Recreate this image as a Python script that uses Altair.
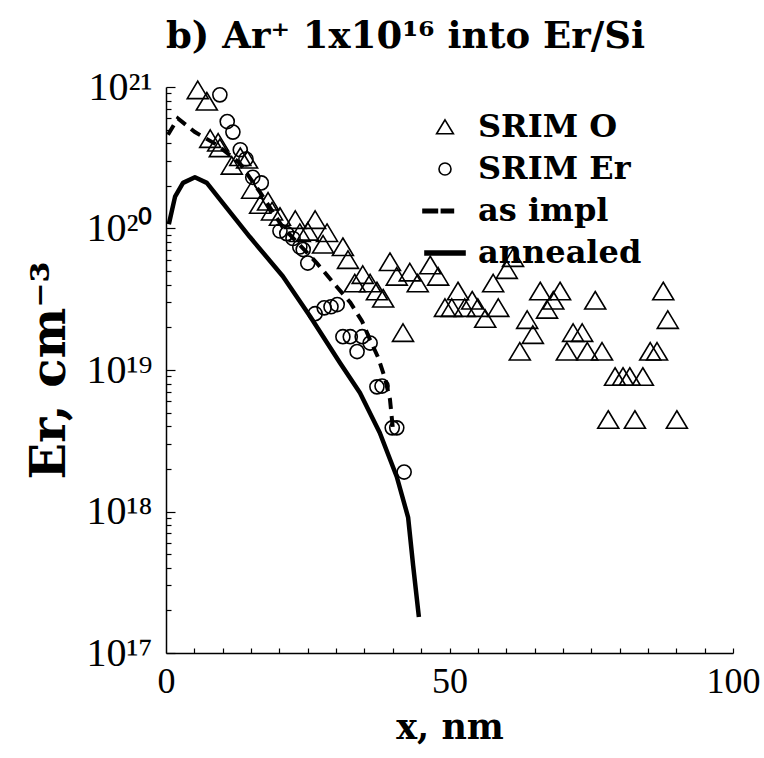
import altair as alt
import pandas as pd

# ---------------- data ----------------
anneal_x = [0.5, 1.6, 3.0, 5.1, 7.2, 10.1, 14.8, 20.6, 25.4, 30.7, 34.2, 37.7, 40.7, 42.7, 43.6, 44.6]
anneal_y = [1.07e20, 1.68e20, 2.1e20, 2.3e20, 2.1e20, 1.5e20, 8.7e19, 4.6e19, 2.4e19, 1.12e19,
            6.9e18, 3.6e18, 1.76e18, 9.1e17, 4.1e17, 1.8e17]

impl_x = [0.35, 2.1, 5.1, 9.0, 13.0, 16.6, 20.6, 26.6, 30.3, 32.5, 34.6, 36.0, 37.4, 38.6, 39.5, 40.0]
impl_y = [4.6e20, 6.0e20, 4.8e20, 3.9e20, 2.9e20, 1.8e20, 1.02e20, 5.7e19, 3.8e19, 3.0e19,
          2.2e19, 1.63e19, 1.23e19, 8.8e18, 6.2e18, 3.9e18]

srim_o_x = [5.6, 7.2, 7.8, 9.2, 9.5, 13.1, 14.3, 11.6, 15.2, 16.6, 18.0, 18.7, 20.1, 22.8, 26.3,
            23.6, 25.0, 28.4, 27.7, 31.2, 32.1, 34.7, 33.3, 36.0, 37.2, 38.3, 39.5, 40.7, 43.0,
            44.4, 46.6, 48.0, 41.8, 51.5, 49.2, 50.4, 54.0, 52.7, 55.0, 56.3, 58.6, 57.7, 60.1,
            61.2, 63.7, 64.7, 62.4, 66.0, 67.2, 68.3, 69.5, 75.7, 71.8, 73.4, 70.7, 74.3, 76.9,
            85.4, 86.6, 79.2, 80.6, 81.8, 84.1, 78.0, 82.7, 90.1, 87.7, 88.5]
srim_o_y = [9.5e20, 7.9e20, 4.3e20, 4.05e20, 3.7e20, 3.2e20, 3.07e20, 2.78e20, 1.88e20, 1.47e20,
            1.55e20, 1.32e20, 1.21e20, 1.15e20, 1.15e20, 9.3e19, 9.5e19, 9.3e19, 7.7e19, 7.4e19,
            6.0e19, 4.7e19, 4.1e19, 4.1e19, 3.6e19, 3.2e19, 5.8e19, 4.57e19, 4.9e19, 4.1e19,
            5.5e19, 4.57e19, 1.83e19, 3.6e19, 2.75e19, 2.75e19, 3.1e19, 2.75e19, 2.75e19, 2.3e19,
            2.75e19, 4.1e19, 5.1e19, 6.2e19, 2.26e19, 1.77e19, 1.35e19, 3.6e19, 2.67e19, 3.1e19,
            3.6e19, 3.1e19, 1.83e19, 1.83e19, 1.35e19, 1.35e19, 1.35e19, 1.35e19, 1.35e19,
            8.96e18, 8.96e18, 8.96e18, 8.96e18, 4.45e18, 4.45e18, 4.45e18, 3.6e19, 2.26e19]

srim_er_x = [9.5, 10.8, 11.8, 13.1, 14.1, 15.3, 16.8, 20.1, 21.3, 22.4, 23.6, 24.2, 25.0, 26.3,
             27.9, 29.1, 30.2, 31.2, 32.5, 34.6, 36.0, 33.7, 37.2, 38.1, 39.9, 40.7, 42.0]
srim_er_y = [8.8e20, 5.7e20, 4.8e20, 3.6e20, 3.1e20, 2.3e20, 2.1e20, 9.6e19, 9.2e19, 8.5e19,
             7.4e19, 7.1e19, 5.7e19, 2.5e19, 2.75e19, 2.8e19, 2.9e19, 1.72e19, 1.72e19, 1.72e19,
             1.55e19, 1.35e19, 7.6e18, 7.7e18, 3.9e18, 3.9e18, 1.9e18]

series_names = ["SRIM O", "SRIM Er", "as impl", "annealed"]

x_label_values = [0, 50, 100]
x_tick_values = list(range(5, 101, 5))
y_major_values = [1e17, 1e18, 1e19, 1e20, 1e21]
y_major_labels = ["10¹⁷", "10¹⁸", "10¹⁹", "10²⁰", "10²¹"]
y_minor_values = [m * 10.0 ** e for e in range(17, 21) for m in range(2, 10)]

# ---------------- tables ----------------
df_ann = pd.DataFrame({"x": anneal_x, "y": anneal_y, "series": "annealed"})
df_imp = pd.DataFrame({"x": impl_x, "y": impl_y, "series": "as impl"})
df_o = pd.DataFrame({"x": srim_o_x, "y": srim_o_y, "series": "SRIM O"})
df_er = pd.DataFrame({"x": srim_er_x, "y": srim_er_y, "series": "SRIM Er"})

# ---------------- styling ----------------
SERIF = "Liberation Serif"
BOLD = "DejaVu Serif"
TICK = "black"

xs = alt.Scale(domain=[0, 100], nice=False, zero=False)
ys = alt.Scale(type="log", domain=[1e17, 1e21], nice=False)

label_expr = ""
for v, lab in zip(y_major_values, y_major_labels):
    label_expr += f"datum.value < {v * 3:.3g} ? '{lab}' : "
label_expr += "''"

TRI = "M0,-0.36L0.42,0.34L-0.42,0.34Z"
CIRC = "M-0.3,0A0.3,0.3,0,1,0,0.3,0A0.3,0.3,0,1,0,-0.3,0Z"
DASH = "M-1.1,-0.08H-0.38V0.08H-1.1Z M-0.18,-0.08H0.42V0.08H-0.18Z"
LINE = "M-1,-0.1H1V0.1H-1Z"

legend = alt.Legend(
    orient="none", legendX=258, legendY=19, title=None, symbolSize=1600,
    labelFont=BOLD, labelFontSize=32, labelFontWeight="bold", labelColor="black",
    labelOffset=12, rowPadding=5, padding=0, symbolStrokeWidth=1.6,
    symbolStrokeColor="black", labelLimit=400,
)
shape_enc = alt.Shape("series:N", scale=alt.Scale(domain=series_names, range=[TRI, CIRC, DASH, LINE]),
                      legend=legend)
fill_enc = alt.Fill("series:N", scale=alt.Scale(domain=series_names,
                                                range=["transparent", "transparent", "black", "black"]),
                    legend=legend)
stroke_enc = alt.Stroke("series:N", scale=alt.Scale(domain=series_names,
                                                    range=["black", "black", "black", "black"]),
                        legend=legend)

# main layer: labels, domain lines, titles
annealed = alt.Chart(df_ann).mark_line(color="black", strokeWidth=4.5, strokeCap="butt",
                                       strokeJoin="round").encode(
    x=alt.X("x:Q", scale=xs, axis=alt.Axis(
        values=x_label_values, orient="bottom", ticks=False, domain=True, domainColor="black",
        domainWidth=1.5, grid=False, labelFont=SERIF, labelFontSize=36, labelColor="black",
        labelPadding=11, labelFlush=False, labelOverlap=False, title="x, nm", titleFont=BOLD,
        titleFontSize=35, titleFontWeight="bold", titleColor="black",
        titleY=85, titleBaseline="alphabetic")),
    y=alt.Y("y:Q", scale=ys, axis=alt.Axis(
        values=y_major_values, orient="left", ticks=False, domain=True, domainColor="black",
        domainWidth=1.5, grid=False, labelExpr=label_expr, labelFont=SERIF, labelFontSize=40,
        labelColor="black", labelPadding=14, labelFlush=False, labelOverlap=False,
        title="Er, cm⁻³", titleFont=BOLD, titleFontSize=48, titleFontWeight="bold",
        titleColor="black", titlePadding=12)),
)

# minor ticks (inward)
impl = alt.Chart(df_imp).mark_line(color="black", strokeWidth=4, strokeDash=[11, 7],
                                   strokeCap="butt").encode(
    x=alt.X("x:Q", scale=xs, axis=alt.Axis(
        values=x_tick_values, orient="bottom", offset=-5, tickSize=5, tickColor=TICK,
        tickWidth=1.2, labels=False, domain=False, grid=False, title=None)),
    y=alt.Y("y:Q", scale=ys, axis=alt.Axis(
        values=y_minor_values, orient="left", offset=-5, tickSize=5, tickColor=TICK,
        tickWidth=1.2, labels=False, domain=False, grid=False, title=None)),
)

# major y ticks (inward)
tri = alt.Chart(df_o).mark_point(size=2500, strokeWidth=1.6, opacity=1).encode(
    x=alt.X("x:Q", scale=xs, axis=None),
    y=alt.Y("y:Q", scale=ys, axis=alt.Axis(
        values=y_major_values, orient="left", offset=-9, tickSize=9, tickColor=TICK,
        tickWidth=1.2, labels=False, domain=False, grid=False, title=None)),
    shape=shape_enc,
    fill=fill_enc,
    stroke=stroke_enc,
)

circ = alt.Chart(df_er).mark_point(size=2200, strokeWidth=1.6, opacity=1).encode(
    x=alt.X("x:Q", scale=xs, axis=None),
    y=alt.Y("y:Q", scale=ys, axis=None),
    shape=shape_enc,
    fill=fill_enc,
    stroke=stroke_enc,
)

chart = alt.layer(annealed, impl, tri, circ).resolve_axis(
    x="independent", y="independent"
).properties(
    width=567, height=566,
    autosize=alt.AutoSizeParams(type="none"),
    padding={"left": 166, "top": 87, "right": 31, "bottom": 105},
    background="white",
    title=alt.TitleParams(text="b) Ar⁺ 1x10¹⁶ into Er/Si", anchor="start", frame="group",
                          font=BOLD, fontSize=37, fontWeight="bold", color="black", offset=11),
).configure_view(stroke=None)

chart.save("out.html", embed_options={"renderer": "svg", "actions": False})
